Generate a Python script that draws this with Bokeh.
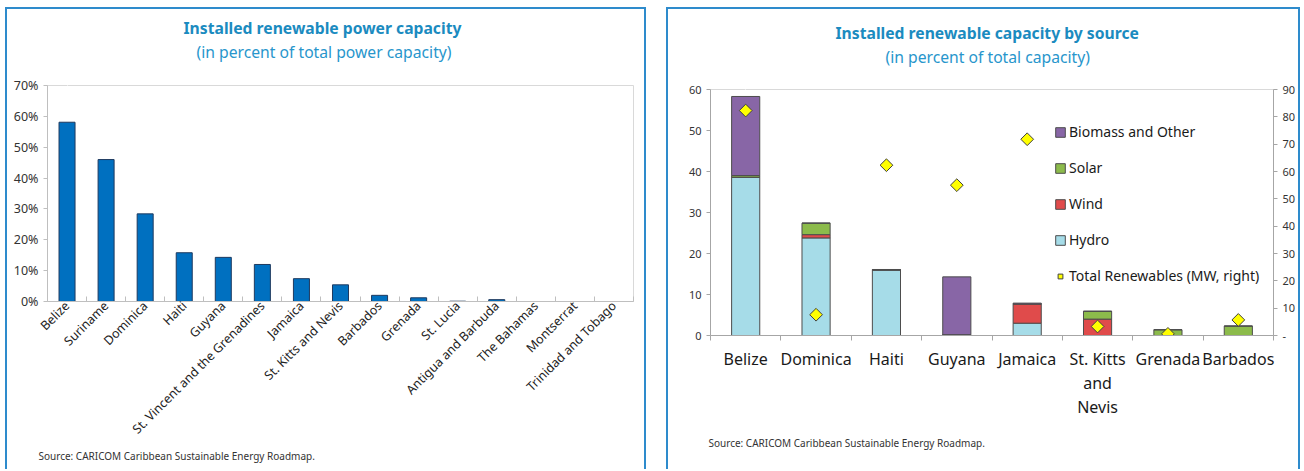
from math import pi
from bokeh.plotting import figure
from bokeh.models import (Range1d, LinearAxis, FixedTicker, PrintfTickFormatter, Title,
                          Legend, LegendItem, ColumnDataSource)
from bokeh.layouts import row
from bokeh.embed import file_html
from bokeh.resources import INLINE

# ---------------- data ----------------
share_countries = ["Belize", "Suriname", "Dominica", "Haiti", "Guyana",
                   "St. Vincent and the Grenadines", "Jamaica", "St. Kitts and Nevis",
                   "Barbados", "Grenada", "St. Lucia", "Antigua and Barbuda",
                   "The Bahamas", "Montserrat", "Trinidad and Tobago"]
share_pct = [58.1, 46.0, 28.4, 15.8, 14.3, 12.0, 7.4, 5.4, 2.0, 1.2, 0.1, 0.6, 0.0, 0.0, 0.0]
share_ticks = [0, 10, 20, 30, 40, 50, 60, 70]

src_countries = ["Belize", "Dominica", "Haiti", "Guyana", "Jamaica",
                 "St. Kitts\nand\nNevis", "Grenada", "Barbados"]
hydro = [38.6, 23.8, 16.0, 0.2, 3.0, 0.0, 0.0, 0.0]
wind = [0.0, 0.8, 0.0, 0.0, 4.7, 4.0, 0.0, 0.0]
solar = [0.4, 2.8, 0.0, 0.0, 0.0, 1.9, 1.4, 2.3]
biomass = [19.3, 0.0, 0.1, 14.1, 0.2, 0.0, 0.0, 0.0]
total_mw = [82.3, 7.6, 62.3, 55.0, 71.8, 3.3, 0.6, 5.7]
left_ticks = [0, 10, 20, 30, 40, 50, 60]
right_ticks = [0, 10, 20, 30, 40, 50, 60, 70, 80, 90]

TITLE_C = "#1B8BC0"
SUB_C = "#2896CC"
FONT = "Noto Sans"
SOURCE = "Source: CARICOM Caribbean Sustainable Energy Roadmap."
BORDER = {"border-top": "2px solid #2E8BCC", "border-left": "2px solid #2E8BCC",
          "border-right": "2px solid #2E8BCC"}


def titles(p, main, sub, main_off, sub_off, gap, anchor):
    # blank spacer axis (one white tick, empty label) between frame and subtitle
    sp = LinearAxis(ticker=FixedTicker(ticks=[anchor], minor_ticks=[]),
                    major_label_overrides={anchor: ""},
                    major_tick_out=gap, major_tick_in=0, major_label_standoff=0,
                    axis_line_color=None, major_tick_line_color="#FFFFFF",
                    minor_tick_line_color=None, major_label_text_font_size="1px")
    p.add_layout(sp, "above")
    p.add_layout(Title(text=sub, align="left", offset=sub_off, standoff=0, text_font=FONT,
                       text_font_size="15.7px", text_font_style="normal", text_color=SUB_C), "above")
    p.add_layout(Title(text=main, align="left", offset=main_off, standoff=0, text_font=FONT,
                       text_font_size="15.7px", text_font_style="bold", text_color=TITLE_C), "above")


def style_axis(ax, color, size):
    ax.minor_tick_line_color = None
    ax.major_tick_out = 4
    ax.major_tick_in = 0
    ax.major_tick_line_color = color
    ax.axis_line_color = color
    ax.major_label_text_font = FONT
    ax.major_label_text_font_size = size
    ax.major_label_text_color = "#333333"


# ---------------- left chart ----------------
n1 = len(share_countries)
p1 = figure(width=641, height=462, output_backend="svg", toolbar_location=None, title=None,
            x_range=Range1d(-0.5, n1 - 0.5), y_range=Range1d(0, 70),
            min_border_left=40, min_border_right=15, min_border_top=76, min_border_bottom=170,
            styles=BORDER, margin=(7, 0, 0, 5))
p1.frame_align = False
p1.vbar(x=list(range(n1)), top=share_pct, width=0.41, fill_color="#0070C0",
        line_color="#1F3A5F", line_width=1)
p1.grid.visible = False
p1.outline_line_color = "#D9D9D9"
xa = p1.xaxis[0]
xa.ticker = FixedTicker(ticks=list(range(n1)), minor_ticks=[i - 0.5 for i in range(n1 + 1)])
xa.major_label_overrides = {i: c for i, c in enumerate(share_countries)}
xa.major_tick_line_color = None
xa.major_tick_out = 0
xa.minor_tick_in = 5
xa.minor_tick_out = 0
xa.minor_tick_line_color = "#BFBFBF"
xa.axis_line_color = "#BFBFBF"
xa.major_label_orientation = pi / 4
xa.major_label_standoff = 2
xa.major_label_text_font = FONT
xa.major_label_text_font_size = "12.5px"
xa.major_label_text_color = "#222222"
ya = p1.yaxis[0]
ya.ticker = FixedTicker(ticks=share_ticks)
ya.formatter = PrintfTickFormatter(format="%d%%")
style_axis(ya, "#BFBFBF", "12.5px")
titles(p1, "Installed renewable power capacity", "(in percent of total power capacity)",
       136, 149, 23, 0)
p1.add_layout(Title(text=SOURCE, align="left", offset=-9, standoff=0, text_font=FONT,
                    text_font_size="10px", text_font_style="normal", text_color="#333333"), "below")

# ---------------- right chart ----------------
n2 = len(src_countries)
p2 = figure(width=634, height=462, output_backend="svg", toolbar_location=None, title=None,
            x_range=Range1d(-0.5, n2 - 0.5), y_range=Range1d(0, 60),
            min_border_left=42, min_border_right=29, min_border_top=80, min_border_bottom=136,
            styles=BORDER, margin=(7, 0, 0, 0))
p2.frame_align = False
p2.extra_y_ranges = {"mw": Range1d(0, 90)}
src = ColumnDataSource(dict(x=list(range(n2)), hydro=hydro, wind=wind, solar=solar,
                            biomass=biomass, total=total_mw))
bars = p2.vbar_stack(["hydro", "wind", "solar", "biomass"], x="x", width=0.4, source=src,
                     fill_color=["#A6DCE8", "#E04B4B", "#8CBB4B", "#8866A6"],
                     line_color="#4D4D4D", line_width=1)
dia = p2.scatter(x="x", y="total", y_range_name="mw", source=src, marker="square",
                 angle=pi / 4, size=9, fill_color="#FFFF00", line_color="#404040", line_width=1)
p2.grid.visible = False
p2.outline_line_color = "#D9D9D9"
xb = p2.xaxis[0]
xb.ticker = FixedTicker(ticks=list(range(n2)), minor_ticks=[i - 0.5 for i in range(n2 + 1)])
xb.major_label_overrides = {i: c for i, c in enumerate(src_countries)}
xb.major_tick_line_color = None
xb.major_tick_out = 0
xb.minor_tick_in = 0
xb.minor_tick_out = 5
xb.minor_tick_line_color = "#A6A6A6"
xb.axis_line_color = "#A6A6A6"
xb.major_label_standoff = 7
xb.major_label_text_font = FONT
xb.major_label_text_font_size = "16px"
xb.major_label_text_line_height = 1.1
xb.major_label_text_color = "#1A1A1A"
yb = p2.yaxis[0]
yb.ticker = FixedTicker(ticks=left_ticks)
style_axis(yb, "#A6A6A6", "11px")
ry = LinearAxis(y_range_name="mw", ticker=FixedTicker(ticks=right_ticks),
                major_label_overrides={0: "-"})
style_axis(ry, "#A6A6A6", "11px")
p2.add_layout(ry, "right")

legend = Legend(items=[LegendItem(label="Biomass and Other", renderers=[bars[3]]),
                       LegendItem(label="Solar", renderers=[bars[2]]),
                       LegendItem(label="Wind", renderers=[bars[1]]),
                       LegendItem(label="Hydro", renderers=[bars[0]]),
                       LegendItem(label="Total Renewables (MW, right)", renderers=[dia])],
                location=(344, 50), padding=0, margin=0, spacing=17, glyph_width=12,
                glyph_height=12, label_height=14, label_standoff=3,
                label_text_font=FONT, label_text_font_size="14px", label_text_color="#1A1A1A",
                border_line_color=None, background_fill_alpha=0)
p2.add_layout(legend)
titles(p2, "Installed renewable capacity by source", "(in percent of total capacity)",
       125, 175, 22, 0)
p2.add_layout(Title(text=SOURCE, align="left", offset=-2, standoff=26, text_font=FONT,
                    text_font_size="10px", text_font_style="normal", text_color="#333333"), "below")

layout = row(p1, p2, spacing=20)
open("out.html", "w").write(file_html(layout, INLINE))
